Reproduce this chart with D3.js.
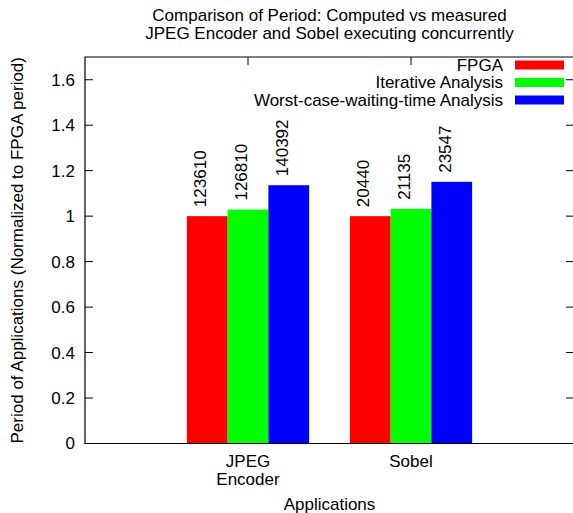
<!DOCTYPE html>
<html>
<head>
<meta charset="utf-8">
<script src="https://cdn.jsdelivr.net/npm/d3@7"></script>
<style>
  body { margin: 0; background: #fff; }
  svg text { font-family: "Liberation Sans", Arial, sans-serif; font-size: 17px; fill: #000; }
</style>
</head>
<body>
<svg id="chart" width="573" height="513"></svg>
<script>
// chart data
const apps = [["JPEG", "Encoder"], ["Sobel"]];
const seriesNames = ["FPGA", "Iterative Analysis", "Worst-case-waiting-time Analysis"];
const seriesColors = ["#ff0000", "#00ff00", "#0000ff"];
const fpga = [1.0, 1.0];
const iterative = [1.029, 1.032];
const worstCase = [1.136, 1.151];
const fpgaPeriod = [123610, 20440];
const iterativePeriod = [126810, 21135];
const worstCasePeriod = [140392, 23547];
const yTicks = [0, 0.2, 0.4, 0.6, 0.8, 1, 1.2, 1.4, 1.6];
const titleLines = ["Comparison of Period: Computed vs measured", "JPEG Encoder and Sobel executing concurrently"];

const values = [fpga, iterative, worstCase];
const periods = [fpgaPeriod, iterativePeriod, worstCasePeriod];

const svg = d3.select("#chart");
const mLeft = 85, mRight = 574, mTop = 57, mBottom = 443.5;

const x = d3.scaleLinear().domain([-1, 2]).range([mLeft, mRight]);
const y = d3.scaleLinear().domain([0, 1.7]).range([mBottom, mTop]);
const barW = 0.25;
const tickLen = 8;

// title
svg.append("text")
  .attr("text-anchor", "middle")
  .selectAll("tspan")
  .data(titleLines)
  .join("tspan")
  .attr("x", (mLeft + mRight) / 2)
  .attr("y", (d, i) => 21 + i * 18)
  .text(d => d);

// y axis ticks + labels (gnuplot style: inward, mirrored)
const yAxisG = svg.append("g");
yTicks.forEach(t => {
  yAxisG.append("line")
    .attr("x1", mLeft).attr("x2", mLeft + tickLen)
    .attr("y1", y(t)).attr("y2", y(t))
    .attr("stroke", "#000");
  yAxisG.append("line")
    .attr("x1", mRight - tickLen).attr("x2", mRight)
    .attr("y1", y(t)).attr("y2", y(t))
    .attr("stroke", "#000");
  yAxisG.append("text")
    .attr("x", mLeft - 10)
    .attr("y", y(t))
    .attr("dy", "0.35em")
    .attr("text-anchor", "end")
    .text(d3.format("~g")(t));
});

// x ticks + category labels
apps.forEach((a, i) => {
  svg.append("line")
    .attr("x1", x(i)).attr("x2", x(i))
    .attr("y1", mTop).attr("y2", mTop + tickLen)
    .attr("stroke", "#000");
  svg.append("line")
    .attr("x1", x(i)).attr("x2", x(i))
    .attr("y1", mBottom).attr("y2", mBottom - tickLen)
    .attr("stroke", "#000");
  a.forEach((line, j) => {
    svg.append("text")
      .attr("x", x(i))
      .attr("y", 466.5 + j * 18)
      .attr("text-anchor", "middle")
      .text(line);
  });
});

// bars
values.forEach((vals, s) => {
  const off = (s - 1) * barW;
  svg.append("g")
    .selectAll("rect")
    .data(vals)
    .join("rect")
    .attr("x", (d, i) => x(i + off - barW / 2))
    .attr("width", x(barW) - x(0))
    .attr("y", d => y(d))
    .attr("height", d => y(0) - y(d))
    .attr("fill", seriesColors[s]);

  svg.append("g")
    .selectAll("text")
    .data(vals)
    .join("text")
    .attr("transform", (d, i) => `translate(${x(i + off) - 1},${y(d) - 9}) rotate(-90)`)
    .attr("text-anchor", "start")
    .text((d, i) => periods[s][i]);
});

// border
svg.append("path")
  .attr("d", `M${mLeft},${mTop}H${mRight}V${mBottom}H${mLeft}Z`)
  .attr("fill", "none")
  .attr("stroke", "#000")
  .attr("stroke-width", 1.2);

// legend
const legend = svg.append("g");
seriesNames.forEach((name, i) => {
  const ly = 65 + i * 17.5;
  legend.append("text")
    .attr("x", 503)
    .attr("y", ly)
    .attr("dy", "0.35em")
    .attr("text-anchor", "end")
    .text(name);
  legend.append("rect")
    .attr("x", 515).attr("y", ly - 4.5)
    .attr("width", 49).attr("height", 9)
    .attr("fill", seriesColors[i]);
});

// axis titles
svg.append("text")
  .attr("x", (mLeft + mRight) / 2)
  .attr("y", 510)
  .attr("text-anchor", "middle")
  .text("Applications");

svg.append("text")
  .attr("transform", `translate(23,${(mTop + mBottom) / 2}) rotate(-90)`)
  .attr("text-anchor", "middle")
  .text("Period of Applications (Normalized to FPGA period)");
</script>
</body>
</html>
